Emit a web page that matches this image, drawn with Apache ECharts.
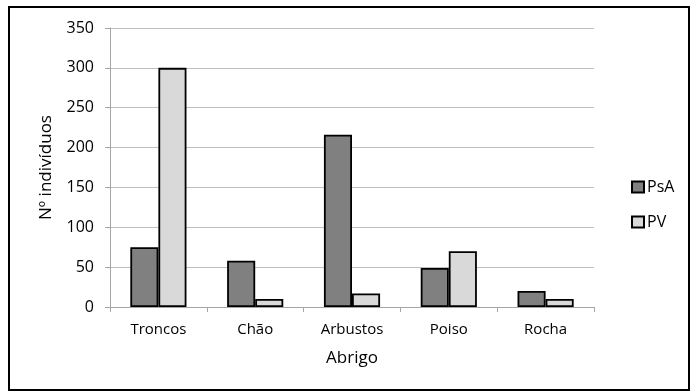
<!DOCTYPE html>
<html>
<head>
<meta charset="utf-8">
<script src="https://cdn.jsdelivr.net/npm/echarts@6/dist/echarts.min.js"></script>
<style>
  html, body { margin: 0; padding: 0; background: #fff; }
  #frame { position: absolute; left: 8px; top: 6px; width: 678px; height: 381px; border: 2px solid #000; }
  #chart { position: absolute; left: 0; top: 0; width: 696px; height: 392px; }
</style>
</head>
<body>
<div id="frame"></div>
<div id="chart"></div>
<script>
// Abrigo categories and counts per group
const categories = ['Troncos', 'Chão', 'Arbustos', 'Poiso', 'Rocha'];
const psaValues = [75, 58, 216, 49, 20];
const pvValues = [300, 10, 17, 70, 10];
const yTicks = { min: 0, max: 350, interval: 50 };

const font = 'Open Sans, sans-serif';
const chart = echarts.init(document.getElementById('chart'), null, { renderer: 'canvas' });

chart.setOption({
  animation: false,
  backgroundColor: 'transparent',
  grid: { left: 110, right: 102, top: 28, bottom: 85, containLabel: false },
  legend: {
    orient: 'vertical',
    left: 626,
    top: 172,
    icon: 'rect',
    itemWidth: 12,
    itemHeight: 11,
    itemGap: 15,
    textStyle: { fontFamily: font, fontSize: 16, lineHeight: 20, color: '#000', padding: [0, 0, 0, -2] },
    data: ['PsA', 'PV']
  },
  xAxis: {
    type: 'category',
    data: categories,
    name: 'Abrigo',
    nameLocation: 'middle',
    nameGap: 43,
    nameTextStyle: { fontFamily: font, fontSize: 17, color: '#000' },
    axisLine: { lineStyle: { color: '#a6a6a6', width: 1 } },
    axisTick: { show: true, length: 5, lineStyle: { color: '#a6a6a6' } },
    axisLabel: { fontFamily: font, fontSize: 15, color: '#000', margin: 15 }
  },
  yAxis: {
    type: 'value',
    min: yTicks.min,
    max: yTicks.max,
    interval: yTicks.interval,
    name: 'Nº indivíduos',
    nameLocation: 'middle',
    nameGap: 55,
    nameRotate: 90,
    nameTextStyle: { fontFamily: font, fontSize: 17, color: '#000' },
    axisLine: { show: true, lineStyle: { color: '#a6a6a6', width: 1 } },
    axisTick: { show: true, length: 5, lineStyle: { color: '#a6a6a6' } },
    axisLabel: { fontFamily: font, fontSize: 16, color: '#000', margin: 16 },
    splitLine: { lineStyle: { color: '#bfbfbf', width: 1 } }
  },
  series: [
    {
      name: 'PsA',
      type: 'bar',
      data: psaValues,
      barGap: '0%',
      barCategoryGap: '42%',
      itemStyle: { color: '#808080', borderColor: '#000', borderWidth: 1.8 }
    },
    {
      name: 'PV',
      type: 'bar',
      data: pvValues,
      itemStyle: { color: '#d9d9d9', borderColor: '#000', borderWidth: 1.8 }
    }
  ]
});
</script>
</body>
</html>
